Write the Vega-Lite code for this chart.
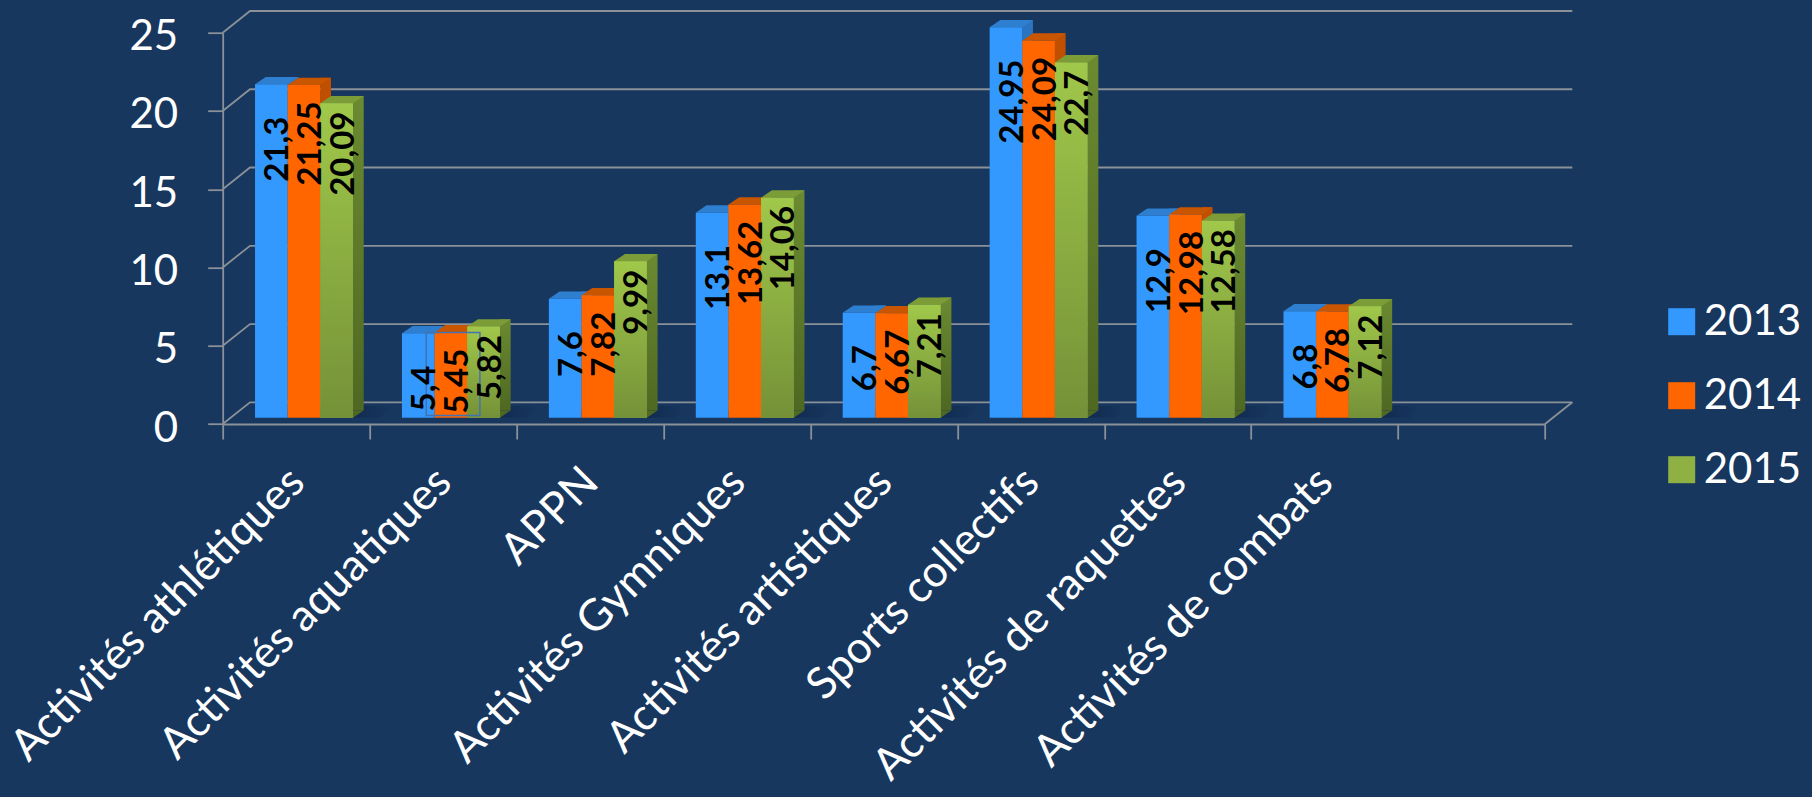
{
"$schema":"https://vega.github.io/schema/vega-lite/v6.json",
"background":"#17375e",
"autosize":{"type":"none"},
"padding":{"left":222.7,"top":32.7,"right":267,"bottom":373},
"width":1322.3,"height":391.3,
"config":{"view":{"stroke":null},"font":"Lato"},
"datasets":{
"bars":[
{"cat":"Activités athlétiques","year":"2013","value":21.3,"label":"21,3"},
{"cat":"Activités athlétiques","year":"2014","value":21.25,"label":"21,25"},
{"cat":"Activités athlétiques","year":"2015","value":20.09,"label":"20,09"},
{"cat":"Activités aquatiques","year":"2013","value":5.4,"label":"5,4"},
{"cat":"Activités aquatiques","year":"2014","value":5.45,"label":"5,45"},
{"cat":"Activités aquatiques","year":"2015","value":5.82,"label":"5,82"},
{"cat":"APPN","year":"2013","value":7.6,"label":"7,6"},
{"cat":"APPN","year":"2014","value":7.82,"label":"7,82"},
{"cat":"APPN","year":"2015","value":9.99,"label":"9,99"},
{"cat":"Activités Gymniques","year":"2013","value":13.1,"label":"13,1"},
{"cat":"Activités Gymniques","year":"2014","value":13.62,"label":"13,62"},
{"cat":"Activités Gymniques","year":"2015","value":14.06,"label":"14,06"},
{"cat":"Activités artistiques","year":"2013","value":6.7,"label":"6,7"},
{"cat":"Activités artistiques","year":"2014","value":6.67,"label":"6,67"},
{"cat":"Activités artistiques","year":"2015","value":7.21,"label":"7,21"},
{"cat":"Sports collectifs","year":"2013","value":24.95,"label":"24,95"},
{"cat":"Sports collectifs","year":"2014","value":24.09,"label":"24,09"},
{"cat":"Sports collectifs","year":"2015","value":22.7,"label":"22,7"},
{"cat":"Activités de raquettes","year":"2013","value":12.9,"label":"12,9"},
{"cat":"Activités de raquettes","year":"2014","value":12.98,"label":"12,98"},
{"cat":"Activités de raquettes","year":"2015","value":12.58,"label":"12,58"},
{"cat":"Activités de combats","year":"2013","value":6.8,"label":"6,8"},
{"cat":"Activités de combats","year":"2014","value":6.78,"label":"6,78"},
{"cat":"Activités de combats","year":"2015","value":7.12,"label":"7,12"}
],
"ticks":[
{"cat":"Activités athlétiques","value":0},{"cat":"Activités athlétiques","value":5},{"cat":"Activités athlétiques","value":10},{"cat":"Activités athlétiques","value":15},{"cat":"Activités athlétiques","value":20},{"cat":"Activités athlétiques","value":25}
],
"cats":[
{"cat":"Activités athlétiques","value":0},{"cat":"Activités aquatiques","value":0},{"cat":"APPN","value":0},{"cat":"Activités Gymniques","value":0},{"cat":"Activités artistiques","value":0},{"cat":"Sports collectifs","value":0},{"cat":"Activités de raquettes","value":0},{"cat":"Activités de combats","value":0}
]
},
"encoding":{
"x":{"field":"cat","type":"nominal","title":null,"sort":null,
 "scale":{"domain":["Activités athlétiques","Activités aquatiques","APPN","Activités Gymniques","Activités artistiques","Sports collectifs","Activités de raquettes","Activités de combats"," "],"paddingInner":0,"paddingOuter":0},
 "axis":{"tickBand":"extent","tickSize":15,"tickColor":"#8b9199","tickWidth":1.8,"domainColor":"#8b9199","domainWidth":1.8,"labelAngle":-45,"labelAlign":"right","labelBaseline":"middle","labelFont":"Lato","labelFontSize":44,"labelColor":"#ffffff","labelPadding":36,"labelOffset":1,"labelLimit":1000,"labelOverlap":false,"labelBound":false,"labelFlush":false,"grid":false}},
"y":{"field":"value","type":"quantitative","title":null,
 "scale":{"domain":[0,25],"nice":false},
 "axis":{"values":[0,5,10,15,20,25],"tickSize":15,"tickColor":"#8b9199","tickWidth":1.8,"domainColor":"#8b9199","domainWidth":1.8,"labelFont":"Lato","labelFontSize":42,"labelColor":"#ffffff","labelPadding":30,"labelOffset":4,"grid":false,"labelBound":false,"labelFlush":false}},
"xOffset":{"field":"year","type":"nominal","scale":{"domain":["2013","2014","2015"],"paddingInner":0,"paddingOuter":0.75,"align":0.66}}
},
"layer":[
{"data":{"name":"ticks"},
 "mark":{"type":"point","shape":"M0,0L27.3,-21.7L1349.6,-21.7","size":4,"filled":false,"stroke":"#8b9199","strokeWidth":1.8,"opacity":1},
 "encoding":{"xOffset":null,"x":{"field":"cat","type":"nominal","title":null,"bandPosition":0,"sort":null,
 "scale":{"domain":["Activités athlétiques","Activités aquatiques","APPN","Activités Gymniques","Activités artistiques","Sports collectifs","Activités de raquettes","Activités de combats"," "],"paddingInner":0,"paddingOuter":0},
 "axis":{"tickBand":"extent","tickSize":15,"tickColor":"#8b9199","tickWidth":1.8,"domainColor":"#8b9199","domainWidth":1.8,"labelAngle":-45,"labelAlign":"right","labelBaseline":"middle","labelFont":"Lato","labelFontSize":44,"labelColor":"#ffffff","labelPadding":36,"labelOffset":1,"labelLimit":1000,"labelOverlap":false,"labelBound":false,"labelFlush":false,"grid":false}}}},
{"data":{"name":"ticks"},
 "transform":[{"filter":"datum.value==0"}],
 "mark":{"type":"point","shape":"M1322.3,0L1349.6,-21.7","size":4,"filled":false,"stroke":"#8b9199","strokeWidth":1.8,"opacity":1},
 "encoding":{"xOffset":null,"x":{"field":"cat","type":"nominal","title":null,"bandPosition":0,"sort":null}}},
{"data":{"name":"cats"},
 "mark":{"type":"point","shape":"M-41,0L-27,-12L95,-12L85,0Z","size":4,"filled":true,"opacity":1,"yOffset":-6.3,"color":{"gradient":"linear","x1":0,"y1":0,"x2":1,"y2":0,"stops":[{"offset":0,"color":"#12305a"},{"offset":0.72,"color":"#112b52"},{"offset":1,"color":"#17375e"}]}},
 "encoding":{"xOffset":null}},
{"data":{"name":"bars"},
 "mark":{"type":"point","shape":"M16.35,0L27,-7.3L16.35,-7.3Z","size":4,"filled":true,"opacity":1,"yOffset":-6.3,"fill":"#4f6822"},
 "transform":[{"filter":"datum.year=='2015'"}],
 "encoding":{"y":{"datum":0,"type":"quantitative"}}},
{"data":{"name":"bars"},
 "transform":[{"filter":"datum.year=='2013'"}],
 "mark":{"type":"bar","width":10.7,"xOffset":-3.18,"yOffset":-13.6,"y2Offset":-13.6,"color":"#2a74c0"},
 "encoding":{"xOffset":null}},
{"data":{"name":"bars"},
 "transform":[{"filter":"datum.year=='2014'"}],
 "mark":{"type":"bar","width":10.7,"xOffset":29.5,"yOffset":-13.6,"y2Offset":-13.6,"color":"#c04f00"},
 "encoding":{"xOffset":null}},
{"data":{"name":"bars"},
 "transform":[{"filter":"datum.year=='2015'"}],
 "mark":{"type":"bar","width":10.7,"xOffset":62.2,"yOffset":-13.6,"y2Offset":-13.6,"color":{"gradient":"linear","x1":0,"y1":0,"x2":0,"y2":1,"stops":[{"offset":0,"color":"#6b8a30"},{"offset":1,"color":"#4f6822"}]}},
 "encoding":{"xOffset":null}},
{"data":{"name":"bars"},
 "mark":{"type":"point","shape":"M-16.35,0L-5.6,-7.3L27,-7.3L16.35,0Z","size":4,"filled":true,"opacity":1,"yOffset":-6.3},
 "encoding":{"color":{"condition":[{"test":"datum.year=='2013'","value":"#2e7fd0"},{"test":"datum.year=='2014'","value":"#c85500"}],"value":"#7c9c38"}}},
{"data":{"name":"bars"},
 "mark":{"type":"bar","yOffset":-6.3,"y2Offset":-6.3},
 "encoding":{"color":{"field":"year","type":"nominal",
  "scale":{"domain":["2013","2014","2015"],"range":["#3399ff","#ff6600","#8fb043"]},
  "legend":{"title":null,"orient":"none","legendX":1438,"legendY":268,"padding":0,"symbolType":"square","symbolSize":729,"symbolStrokeWidth":0,"symbolOpacity":1,"labelFont":"Lato","labelFontSize":42,"labelColor":"#ffffff","labelOffset":1,"rowPadding":32,
   "encoding":{"symbols":{"update":{"fill":{"condition":[{"test":"datum.value==='2013'","value":"#3399ff"},{"test":"datum.value==='2014'","value":"#ff6600"}],"value":{"gradient":"linear","x1":0,"y1":0,"x2":0,"y2":1,"stops":[{"offset":0,"color":"#a0c84a"},{"offset":1,"color":"#759138"}]}}}}}}}}},
{"data":{"name":"bars"},
 "transform":[{"filter":"datum.year=='2015'"}],
 "mark":{"type":"bar","yOffset":-6.3,"y2Offset":-6.3,"color":{"gradient":"linear","x1":0,"y1":0,"x2":0,"y2":1,"stops":[{"offset":0,"color":"#a0c84a"},{"offset":1,"color":"#759138"}]}}},
{"data":{"name":"bars"},
 "transform":[{"filter":"datum.cat=='Activités aquatiques' && datum.year=='2014'"}],
 "mark":{"type":"point","shape":"M-24.7,0L29,0L29,83L-24.7,83Z","size":4,"filled":false,"stroke":"#4472b0","strokeWidth":1.5,"opacity":1,"yOffset":-6.3}},
{"data":{"name":"bars"},
 "transform":[{"filter":"datum.year=='2013'"}],
 "mark":{"type":"text","angle":270,"align":"right","baseline":"middle","font":"Lato","fontSize":33,"fontWeight":700,"fill":"#000000","dy":7,"yOffset":26},
 "encoding":{"text":{"field":"label"}}},
{"data":{"name":"bars"},
 "transform":[{"filter":"datum.year=='2014'"}],
 "mark":{"type":"text","angle":270,"align":"right","baseline":"middle","font":"Lato","fontSize":33,"fontWeight":700,"fill":"#000000","dy":7,"yOffset":10},
 "encoding":{"text":{"field":"label"}}},
{"data":{"name":"bars"},
 "transform":[{"filter":"datum.year=='2015'"}],
 "mark":{"type":"text","angle":270,"align":"right","baseline":"middle","font":"Lato","fontSize":33,"fontWeight":700,"fill":"#000000","dy":7,"yOffset":2},
 "encoding":{"text":{"field":"label"}}}
]
}
